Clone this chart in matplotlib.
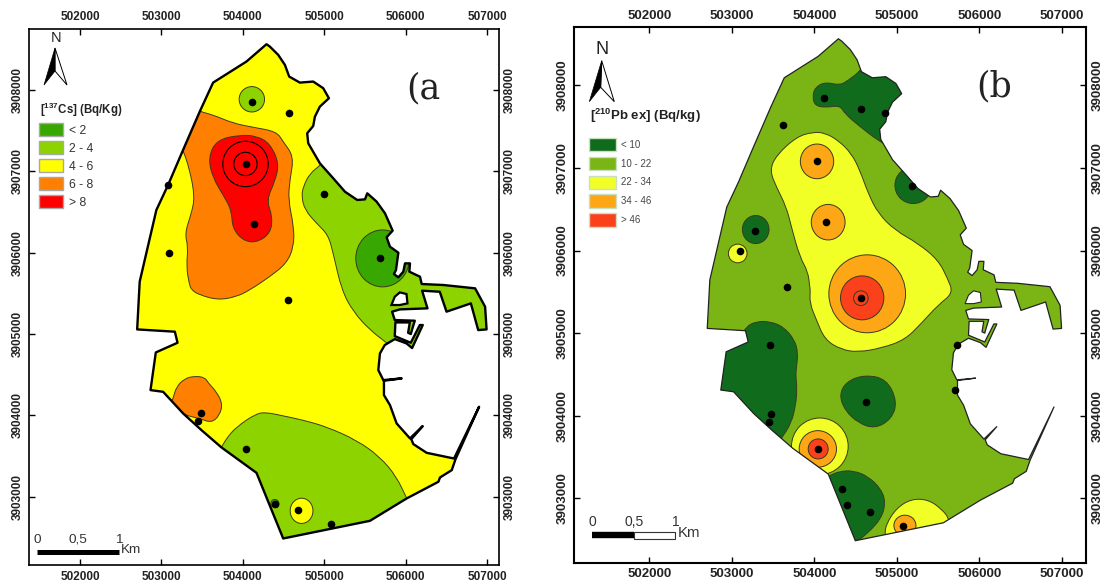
import matplotlib
matplotlib.use("Agg")
import matplotlib.pyplot as plt
import numpy as np
from matplotlib.patches import Polygon, Ellipse, PathPatch, Patch
from matplotlib.path import Path

plt.rcParams["font.family"] = ["Liberation Sans", "DejaVu Sans"]
plt.rcParams["mathtext.fontset"] = "custom"
plt.rcParams["mathtext.rm"] = "Liberation Sans"
plt.rcParams["mathtext.bf"] = "Liberation Sans:bold"

# map coordinates (UTM metres)
x_ticks = [502000, 503000, 504000, 505000, 506000, 507000]
y_ticks = [3903000, 3904000, 3905000, 3906000, 3907000, 3908000]

coast = [
    (504291, 3908563), (504332, 3908534), (504435, 3908432), (504517, 3908309), (504570, 3908165),
    (504701, 3908091), (504865, 3908104), (504988, 3908022), (505058, 3907899), (504947, 3907796),
    (504886, 3907673), (504865, 3907558), (504791, 3907468), (504804, 3907345), (504947, 3907099),
    (505111, 3906915), (505255, 3906750), (505406, 3906648), (505501, 3906656), (505529, 3906730),
    (505644, 3906628), (505747, 3906484), (505841, 3906271), (505767, 3906189), (505808, 3906074),
    (505911, 3906000), (505882, 3905787), (505857, 3905738), (505911, 3905697), (505972, 3905767),
    (505993, 3905869), (506054, 3905869), (506046, 3905767), (506177, 3905705), (506198, 3905615),
    (506464, 3905603), (506854, 3905562), (506977, 3905336), (506995, 3905057), (506892, 3905049),
    (506802, 3905377), (506503, 3905275), (506420, 3905520), (506203, 3905533), (506269, 3905316),
    (505929, 3905303), (505834, 3905275), (505867, 3905172), (506113, 3905164), (506080, 3905057),
    (506064, 3905000), (506031, 3905016), (506052, 3905143), (505875, 3905143), (505867, 3904975),
    (506064, 3904893), (506175, 3905111), (506211, 3905111), (506080, 3904828), (506011, 3904885),
    (505867, 3904938), (505744, 3904865), (505685, 3904762), (505665, 3904557), (505726, 3904434),
    (505952, 3904455), (505734, 3904426), (505734, 3904250), (505808, 3904127), (505890, 3903901),
    (506054, 3903717), (506210, 3903868), (506070, 3903708), (506095, 3903647), (506259, 3903540),
    (506595, 3903470), (506903, 3904106), (506612, 3903458), (506567, 3903327), (506423, 3903237),
    (506403, 3903184), (506013, 3902979), (505562, 3902704), (504496, 3902487), (504168, 3903294),
    (503738, 3903606), (503492, 3903819), (503267, 3904024), (503021, 3904290), (502866, 3904311),
    (502931, 3904774), (503198, 3904893), (503165, 3905029), (502702, 3905057), (502733, 3905644),
    (502938, 3906525), (503082, 3906833), (503266, 3907263), (503471, 3907735), (503635, 3908091),
    (504045, 3908350),
]
harbour_hole = [(505826, 3905357), (505867, 3905459), (505929, 3905512), (506011, 3905492),
                (506023, 3905377), (505929, 3905357)]

# panel a zones
a_se_green = [
    (506054, 3902917), (506013, 3902979), (505890, 3903245), (505685, 3903491), (505398, 3903696),
    (505029, 3903860), (504742, 3903942), (504455, 3904003), (504291, 3904036), (504168, 3904024),
    (503922, 3903860), (503799, 3903716), (503738, 3903606), (503676, 3903532), (504100, 3903000),
    (504400, 3902300), (505600, 3902500),
]
a_ne_green = [
    (504988, 3907140), (504959, 3907079), (504824, 3906976), (504742, 3906812), (504722, 3906689),
    (504763, 3906525), (504906, 3906361), (505050, 3906218), (505111, 3905992), (505214, 3905541),
    (505357, 3905274), (505562, 3905049), (505767, 3904893), (505972, 3904721), (507500, 3904700),
    (507500, 3907000), (505500, 3907600),
]
a_orange = [
    (503430, 3907775), (503471, 3907735), (503635, 3907694), (503881, 3907591), (504127, 3907542),
    (504414, 3907489), (504496, 3907365), (504627, 3907181), (504578, 3906894), (504558, 3906648),
    (504627, 3906320), (504627, 3906074), (504537, 3905869), (504332, 3905705), (504086, 3905541),
    (503922, 3905459), (503697, 3905418), (503471, 3905480), (503369, 3905541), (503340, 3905623),
    (503307, 3905828), (503328, 3906074), (503287, 3906238), (503369, 3906484), (503410, 3906689),
    (503348, 3907017), (503266, 3907263), (503225, 3907325),
]
a_orange_small = [
    (503143, 3904208), (503184, 3904352), (503287, 3904454), (503410, 3904483), (503533, 3904467),
    (503574, 3904401), (503676, 3904290), (503750, 3904147), (503717, 3904003), (503615, 3903909),
    (503471, 3903962), (503287, 3904003), (503102, 3904106),
]
a_red = [
    (503963, 3907448), (503676, 3907386), (503574, 3907161), (503635, 3906915), (503758, 3906710),
    (503861, 3906525), (503873, 3906300), (504004, 3906148), (504168, 3906123), (504340, 3906238),
    (504365, 3906443), (504291, 3906648), (504394, 3906873), (504447, 3907099), (504332, 3907345),
    (504168, 3907435),
]
a_dots_x = [504111, 504037, 504143, 503082, 503090, 504562, 505000, 505685, 504558, 504394, 504672,
            505078, 503483, 503447, 504045]
a_dots_y = [3907858, 3907095, 3906349, 3906833, 3906000, 3907714, 3906718, 3905935, 3905418, 3902917,
            3902835, 3902659, 3904024, 3903930, 3903589]

# panel b zones
b_ne_dark = [
    (503978, 3907858), (504006, 3907971), (504127, 3908040), (504309, 3908000), (504410, 3908060),
    (504551, 3908169), (504652, 3908302), (505339, 3908221), (505339, 3907737), (504935, 3907254),
    (504794, 3907314), (504531, 3907516), (504369, 3907657), (504309, 3907758), (504127, 3907729),
    (504006, 3907758),
]
b_yellow = [
    (503458, 3906972), (503539, 3907153), (503782, 3907375), (503984, 3907435), (504127, 3907423),
    (504289, 3907334), (504450, 3907173), (504551, 3906972), (504652, 3906690), (504773, 3906448),
    (504975, 3906246), (505258, 3906085), (505501, 3905884), (505614, 3905662), (505682, 3905484),
    (505501, 3905343), (505299, 3905121), (505097, 3904919), (504814, 3904819), (504531, 3904770),
    (504329, 3904799), (504127, 3904919), (504024, 3905161), (503943, 3905363), (503951, 3905524),
    (503943, 3905561), (503923, 3905743), (503822, 3905924), (503721, 3906287), (503660, 3906528),
    (503539, 3906770),
]
b_sw_dark = [
    (503115, 3904960), (503176, 3905081), (503297, 3905141), (503458, 3905141), (503620, 3905081),
    (503761, 3904920), (503802, 3904758), (503782, 3904577), (503774, 3904496), (503790, 3904315),
    (503774, 3904134), (503721, 3903912), (503600, 3903723), (503499, 3903590), (502408, 3903912),
    (502408, 3904919),
]
b_s_dark = [
    (504147, 3903247), (504188, 3903279), (504309, 3903328), (504470, 3903336), (504652, 3903267),
    (504814, 3903106), (504862, 3902945), (504814, 3902763), (504652, 3902582), (504491, 3902461),
    (504127, 3902461), (504046, 3903106),
]
b_s_yellow = [
    (504854, 3902542), (504866, 3902683), (504996, 3902884), (505177, 3902993), (505379, 3902985),
    (505541, 3902872), (505642, 3902743), (505703, 3902381), (504854, 3902340),
]
b_mid_dark = [
    (504612, 3904496), (504874, 3904444), (505004, 3904174), (504935, 3903960), (504733, 3903843),
    (504531, 3903912), (504369, 3904065), (504301, 3904255), (504390, 3904416),
]
b_dots_x = [504113, 503620, 504032, 504141, 503281, 503095, 503673, 504564, 504859, 505182, 504564,
            505727, 505707, 504620, 504337, 504398, 504669, 505077, 503459, 503479, 503447, 504040]
b_dots_y = [3907850, 3907523, 3907088, 3906347, 3906234, 3905996, 3905553, 3907709, 3907665, 3906782,
            3905423, 3904851, 3904315, 3904162, 3903110, 3902924, 3902840, 3902663, 3904851, 3904025,
            3903928, 3903594]

# legends
a_classes = ["< 2", "2 - 4", "4 - 6", "6 - 8", "> 8"]
a_colors = ["#38a800", "#8cd300", "#ffff00", "#ff8000", "#ff0000"]
b_classes = ["< 10", "10 - 22", "22 - 34", "34 - 46", "> 46"]
b_colors = ["#116b1c", "#7ab515", "#f2ff27", "#fda717", "#fb411c"]

g_line = "#3a3a20"


def smooth(points):
    # closed quadratic curve that uses the read points as control points
    p = np.array(points, dtype=float)
    mids = (p + np.roll(p, -1, axis=0)) / 2
    verts = [mids[-1]]
    codes = [Path.MOVETO]
    for i in range(len(p)):
        verts += [p[i], mids[i]]
        codes += [Path.CURVE3, Path.CURVE3]
    return Path(verts, codes)


def add_zone(ax, clip, points, color):
    patch = PathPatch(smooth(points), fc=color, ec=g_line, lw=0.7, zorder=2)
    ax.add_patch(patch)
    patch.set_clip_path(clip)


def add_round(ax, clip, cx, cy, w, h, color):
    patch = Ellipse((cx, cy), w, h, fc=color, ec=g_line, lw=0.7, zorder=2)
    ax.add_patch(patch)
    patch.set_clip_path(clip)


def px(x, y):
    return (x / 1105.0, 1 - y / 585.0)


def setup_axes(fig, box, xlim, ylim, fontsize, lw):
    left, top, right, bottom = box
    ax = fig.add_axes([left / 1105.0, 1 - bottom / 585.0, (right - left) / 1105.0, (bottom - top) / 585.0])
    ax.set_xlim(xlim)
    ax.set_ylim(ylim)
    ax.set_xticks(x_ticks)
    ax.set_yticks(y_ticks)
    ax.set_xticklabels([str(v) for v in x_ticks], fontweight="bold", fontsize=fontsize, color="#222222")
    ax.set_yticklabels([str(v) for v in y_ticks], fontweight="bold", fontsize=fontsize, color="#222222",
                       rotation=90, va="center")
    ax.tick_params(top=True, right=True, labeltop=True, labelright=True, direction="in",
                   length=4, width=1, pad=4)
    for s in ax.spines.values():
        s.set_linewidth(lw)
    return ax


def north_arrow(fig, tip, left, notch, right, label_xy, size):
    fig.add_artist(Polygon([px(*tip), px(*notch), px(*right)], closed=True, fc="white", ec="black",
                           lw=0.7, transform=fig.transFigure))
    fig.add_artist(Polygon([px(*tip), px(*left), px(*notch)], closed=True, fc="black", ec="black",
                           lw=0.5, transform=fig.transFigure))
    fig.text(*px(*label_xy), "N", fontsize=size, ha="center", va="center", color="#222222")


def legend(ax, fig, classes, colors, title, title_xy, anchor, fontsize, titlesize, spacing, edge, textcolor,
           hlength, hheight):
    handles = [Patch(fc=c, ec=edge, lw=1.0) for c in colors]
    leg = ax.legend(handles, classes, loc="upper left", bbox_to_anchor=px(*anchor), bbox_transform=fig.transFigure,
                    frameon=False, fontsize=fontsize, handlelength=hlength, handleheight=hheight,
                    labelspacing=spacing, handletextpad=0.5, borderpad=0, borderaxespad=0)
    for t in leg.get_texts():
        t.set_color(textcolor)
    leg.set_zorder(6)
    fig.text(*px(*title_xy), title, fontsize=titlesize, fontweight="bold", color="#222222", ha="left", va="center")


def main():
    fig = plt.figure(figsize=(11.05, 5.85), dpi=100)

    # panel a
    ax = setup_axes(fig, (29, 29, 498.7, 565), (501373, 507144), (3902161, 3908750), 8.5, 1.2)
    clip = Polygon(coast, closed=True, fc=a_colors[2], ec="none", zorder=1)
    ax.add_patch(clip)
    add_zone(ax, clip, a_ne_green, a_colors[1])
    add_round(ax, clip, 505718, 3905930, 660, 700, a_colors[0])
    add_zone(ax, clip, a_se_green, a_colors[1])
    add_round(ax, clip, 504722, 3902827, 280, 310, a_colors[2])
    add_round(ax, clip, 504394, 3902917, 100, 100, a_colors[0])
    add_round(ax, clip, 504111, 3907886, 312, 312, a_colors[1])
    add_zone(ax, clip, a_orange, a_colors[3])
    add_zone(ax, clip, a_orange_small, a_colors[3])
    add_zone(ax, clip, a_red, a_colors[4])
    for r in [286, 558]:
        ax.add_patch(Ellipse((504033, 3907091), r, r, fc="none", ec="black", lw=0.8, zorder=3))
    ax.add_patch(Polygon(harbour_hole, closed=True, fc="white", ec="black", lw=1.6, zorder=3))
    ax.add_patch(Polygon(coast, closed=True, fc="none", ec="black", lw=1.7, joinstyle="round", zorder=4))
    ax.scatter(a_dots_x, a_dots_y, s=20, color="black", zorder=5)
    ax.plot([501475, 502475], [3902322, 3902322], color="black", lw=3.6, solid_capstyle="butt", zorder=5)
    for x, lab in zip([501475, 501975, 502475], ["0", "0,5", "1"]):
        ax.text(x, 3902474, lab, fontsize=9.7, ha="center", va="center", color="#333333")
    ax.text(502505, 3902351, "Km", fontsize=9.7, ha="left", va="center", color="#333333")
    ax.text(0.803, 0.87, "(a", transform=ax.transAxes, fontsize=25, family="DejaVu Serif", color="#222222",
            ha="left", va="baseline")
    legend(ax, fig, a_classes, a_colors, r"[$\mathbf{^{137}}$Cs] (Bq/Kg)", (39.5, 110), (39, 123), 8.7, 8.3, 0.36,
           "#a8a8a8", "#333333", 2.0, 1.3)
    north_arrow(fig, (55, 48), (44, 85), (55, 71), (67, 85), (56, 38), 10.5)

    # panel b
    ax = setup_axes(fig, (574.3, 27.3, 1086, 562.7), (501091, 507291), (3902221, 3908702), 9.5, 1.5)
    clip = Polygon(coast, closed=True, fc=b_colors[1], ec="none", zorder=1)
    ax.add_patch(clip)
    add_zone(ax, clip, b_ne_dark, b_colors[0])
    add_round(ax, clip, 503289, 3906254, 323, 340, b_colors[0])
    add_round(ax, clip, 503071, 3905964, 226, 226, b_colors[2])
    add_round(ax, clip, 505198, 3906790, 444, 443, b_colors[0])
    add_zone(ax, clip, b_yellow, b_colors[2])
    add_round(ax, clip, 504032, 3907079, 404, 420, b_colors[3])
    add_round(ax, clip, 504167, 3906343, 410, 430, b_colors[3])
    add_round(ax, clip, 504640, 3905476, 929, 943, b_colors[3])
    add_round(ax, clip, 504579, 3905427, 525, 532, b_colors[4])
    add_zone(ax, clip, b_sw_dark, b_colors[0])
    add_round(ax, clip, 504066, 3903630, 687, 685, b_colors[2])
    add_round(ax, clip, 504042, 3903598, 452, 443, b_colors[3])
    add_round(ax, clip, 504046, 3903598, 242, 242, b_colors[4])
    add_zone(ax, clip, b_s_dark, b_colors[0])
    add_zone(ax, clip, b_s_yellow, b_colors[2])
    add_round(ax, clip, 505097, 3902671, 267, 250, b_colors[3])
    add_zone(ax, clip, b_mid_dark, b_colors[0])
    ax.add_patch(Ellipse((504563, 3905423), 178, 178, fc="none", ec=g_line, lw=0.7, zorder=3))
    ax.add_patch(Polygon(harbour_hole, closed=True, fc="white", ec="#222222", lw=0.8, zorder=3))
    ax.add_patch(Polygon(coast, closed=True, fc="none", ec="#222222", lw=0.9, joinstyle="round", zorder=4))
    ax.scatter(b_dots_x, b_dots_y, s=20, color="black", zorder=5)
    ax.plot([501309, 501814], [3902554, 3902554], color="black", lw=4.6, solid_capstyle="butt", zorder=5)
    ax.add_patch(plt.Rectangle((501814, 3902513), 501, 82, fc="white", ec="#333333", lw=0.8, zorder=5))
    for x, lab in zip([501309, 501814, 502315], ["0", "0,5", "1"]):
        ax.text(x, 3902715, lab, fontsize=10, ha="center", va="center", color="#333333")
    ax.text(502347, 3902582, "Km", fontsize=10.7, ha="left", va="center", color="#333333")
    ax.text(0.785, 0.87, "(b", transform=ax.transAxes, fontsize=25, family="DejaVu Serif", color="#222222",
            ha="left", va="baseline")
    legend(ax, fig, b_classes, b_colors, r"[$\mathbf{^{210}}$Pb ex] (Bq/kg)", (590, 116), (589, 138), 7.0, 9.5, 0.55,
           "#c8e0c0", "#444444", 2.75, 1.75)
    north_arrow(fig, (601.7, 60.7), (589.3, 101.7), (600.7, 87.3), (614.3, 101.7), (602, 50), 13)

    fig.savefig("out.png", dpi=100)


if __name__ == "__main__":
    main()
